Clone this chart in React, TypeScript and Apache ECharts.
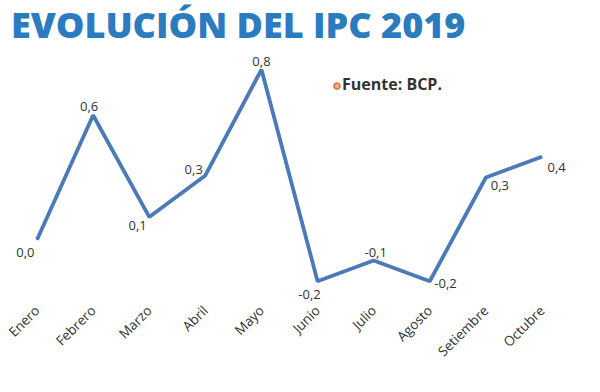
import React, { useEffect, useRef } from "react";
import * as echarts from "echarts";

const categories = ["Enero", "Febrero", "Marzo", "Abril", "Mayo", "Junio", "Julio", "Agosto", "Setiembre", "Octubre"];
const ipcValues = [0.0, 0.6, 0.11, 0.31, 0.82, -0.2, -0.1, -0.2, 0.3, 0.4];
const titleText = "EVOLUCIÓN DEL IPC 2019";
const sourceText = "Fuente: BCP.";

const labelPlacement = ["left", "top", "left", "left", "top", "bottom", "top", "right", "bottom", "right"];
const labelOffsets = [
  [2, 12],
  [-4, 2],
  [2, 8],
  [2, -6],
  [0, 2],
  [-8, 2],
  [2, 2],
  [0, 2],
  [14, -4],
  [1, 10],
];

export default function App() {
  const ref = useRef<HTMLDivElement>(null);
  useEffect(() => {
    if (!ref.current) return;
    const chart = echarts.init(ref.current, null, { renderer: "svg" });
    const fmt = (v: number) => v.toFixed(1).replace(".", ",");
    const data = ipcValues.map((v, i) => ({
      value: v,
      label: { show: true, position: labelPlacement[i], offset: labelOffsets[i] },
    }));
    chart.setOption({
      animation: false,
      backgroundColor: "#ffffff",
      title: {
        text: titleText,
        left: 6,
        top: 1,
        textStyle: {
          fontFamily: "Open Sans",
          fontWeight: 800,
          fontSize: 36,
          color: "#2b7bbf",
        },
      },
      graphic: [
        {
          type: "circle",
          shape: { cx: 337, cy: 86, r: 3 },
          style: { fill: "#f4b183", stroke: "#e06c2c", lineWidth: 1.5 },
        },
        {
          type: "text",
          x: 342,
          y: 76,
          style: {
            text: sourceText,
            font: "bold 16px 'Open Sans'",
            fill: "#333333",
          },
        },
      ],
      grid: { left: 37, right: 58, top: 53, bottom: 90, containLabel: false },
      xAxis: {
        type: "category",
        data: categories,
        boundaryGap: false,
        axisLine: { show: false },
        axisTick: { show: false },
        splitLine: { show: false },
        axisLabel: {
          rotate: 45,
          margin: 6,
          fontFamily: "Open Sans",
          fontSize: 13.5,
          color: "#333333",
        },
      },
      yAxis: {
        type: "value",
        min: -0.3,
        max: 0.9,
        show: false,
        splitLine: { show: false },
      },
      series: [
        {
          type: "line",
          data,
          symbol: "circle",
          symbolSize: 1,
          itemStyle: { color: "#4a7ab8" },
          lineStyle: { color: "#4a7ab8", width: 3.8 },
          label: {
            show: true,
            formatter: (p: any) => fmt(p.value),
            fontFamily: "Open Sans",
            fontSize: 13,
            color: "#333333",
            distance: 4,
          },
        },
      ],
    });
    return () => chart.dispose();
  }, []);
  return <div ref={ref} style={{ position: "fixed", left: 0, top: 0, width: 600, height: 392 }} />;
}
